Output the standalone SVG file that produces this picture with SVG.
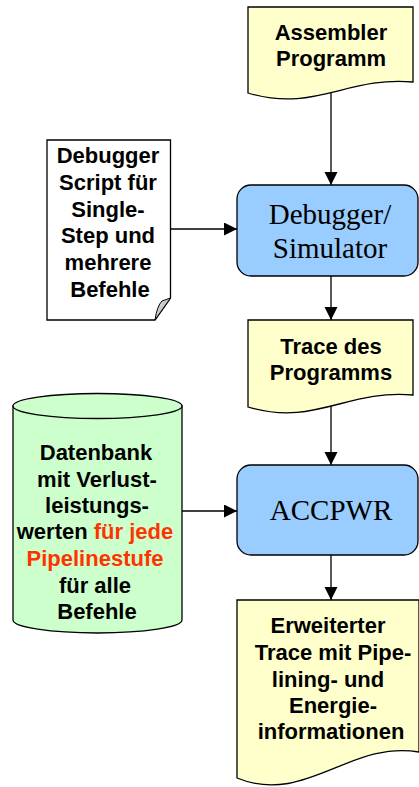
<svg xmlns="http://www.w3.org/2000/svg" width="419" height="787" viewBox="0 0 419 787">
<defs>
<style>
.doc{fill:#FFFFCC;stroke:#000;stroke-width:1.3}
.proc{fill:#99CCFF;stroke:#000;stroke-width:1.3}
.db{fill:#CCFFCC;stroke:#000;stroke-width:1.3}
.page{fill:#FFFFFF;stroke:#000;stroke-width:1.3}
.lbl{font-family:"Liberation Sans",Arial,sans-serif;font-weight:bold;font-size:22px;fill:#000;text-anchor:middle}
.big{font-family:"Liberation Serif","Times New Roman",serif;font-size:29px;fill:#000;text-anchor:middle}
.red{fill:#FF3300}
.conn{fill:none;stroke:#000;stroke-width:1.3}
</style>
<marker id="arr" markerUnits="userSpaceOnUse" markerWidth="14" markerHeight="14" refX="13" refY="6.5" orient="auto">
<path d="M0,0 L13,6.5 L0,13 Z" fill="#000"/>
</marker>
<linearGradient id="fold" x1="0" y1="0" x2="1" y2="1">
<stop offset="0" stop-color="#E8E8E8"/>
<stop offset="1" stop-color="#A0A0A0"/>
</linearGradient>
</defs>

<g id="connectors">
<path class="conn" d="M331,93 V185" marker-end="url(#arr)"/>
<path class="conn" d="M331,276 V320" marker-end="url(#arr)"/>
<path class="conn" d="M331,406 V465" marker-end="url(#arr)"/>
<path class="conn" d="M331,555 V600" marker-end="url(#arr)"/>
<path class="conn" d="M171,229 H237" marker-end="url(#arr)"/>
<path class="conn" d="M182,511 H237" marker-end="url(#arr)"/>
</g>

<g id="assembler">
<path class="doc" d="M248,7 H413 V82 C347,76 314,113 248,93 Z"/>
<text class="lbl" x="331" y="40">Assembler</text>
<text class="lbl" x="331" y="66">Programm</text>
</g>

<g id="script">
<path class="page" d="M47,140 H170.5 V298 L155,320 H47 Z"/>
<path d="M155,320 Q157,306 162,301 L170.5,298 Z" fill="url(#fold)" stroke="#000" stroke-width="1"/>
<text class="lbl" x="108" y="163">Debugger</text>
<text class="lbl" x="108" y="190">Script für</text>
<text class="lbl" x="108" y="217">Single-</text>
<text class="lbl" x="108" y="243">Step und</text>
<text class="lbl" x="108" y="270">mehrere</text>
<text class="lbl" x="110" y="297">Befehle</text>
</g>

<g id="simulator">
<rect class="proc" x="237" y="185" width="181" height="91" rx="14" ry="14"/>
<text class="big" x="330" y="224">Debugger/</text>
<text class="big" x="330" y="258">Simulator</text>
</g>

<g id="trace">
<path class="doc" d="M248,320 H413 V395 C347,389 314,427 248,407 Z"/>
<text class="lbl" x="331" y="354">Trace des</text>
<text class="lbl" x="331" y="380">Programms</text>
</g>

<g id="datenbank">
<path class="db" d="M13,406 V620 A84.5,13 0 0 0 182,620 V406 Z"/>
<ellipse class="db" cx="97.5" cy="406" rx="84.5" ry="12.5"/>
<text class="lbl" x="96" y="460">Datenbank</text>
<text class="lbl" x="97" y="487">mit Verlust-</text>
<text class="lbl" x="97" y="513">leistungs-</text>
<text class="lbl" x="95" y="539">werten <tspan class="red">für jede</tspan></text>
<text class="lbl red" x="95" y="566">Pipelinestufe</text>
<text class="lbl" x="95" y="593">für alle</text>
<text class="lbl" x="97" y="619">Befehle</text>
</g>

<g id="accpwr">
<rect class="proc" x="237" y="465" width="181" height="90" rx="14" ry="14"/>
<text class="big" x="331" y="520">ACCPWR</text>
</g>

<g id="erweitert">
<path class="doc" d="M237,600 H419 V752 C350,740 305,806 237,778 Z"/>
<text class="lbl" x="328" y="633">Erweiterter</text>
<text class="lbl" x="333" y="660">Trace mit Pipe-</text>
<text class="lbl" x="328" y="687">lining- und</text>
<text class="lbl" x="333" y="713">Energie-</text>
<text class="lbl" x="331" y="739">informationen</text>
</g>
</svg>
